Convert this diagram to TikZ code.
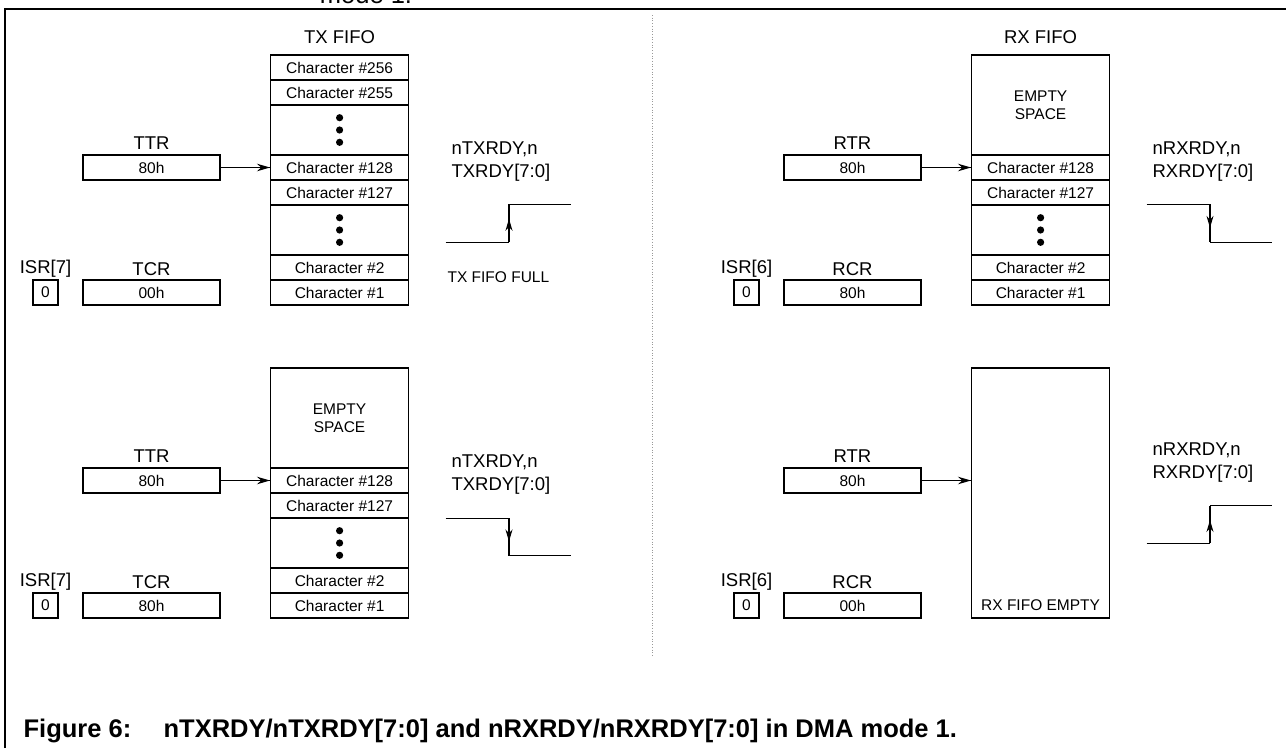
\documentclass[tikz,border=0pt]{standalone}
\usepackage{fontspec}
\setmainfont{Liberation Sans}
\usetikzlibrary{arrows.meta}
\usetikzlibrary{decorations.markings}
\tikzset{regarrow/.style = {decoration={markings,
                                  mark=at position 1 with {\arrow{Stealth[length=13pt,width=7.5pt]}}},
                      postaction={decorate}}}
\tikzset{uparrow/.style = {decoration={markings,
                                  mark=at position 0.62 with {\arrow{Stealth[length=12pt,width=7pt]}}},
                      postaction={decorate}}}
\newcommand{\cellfont}{\fontsize{15.5}{18}\selectfont}
\newcommand{\lblfont}{\fontsize{18.5}{23}\selectfont}
\tikzset{cell/.style = {draw, minimum width=138pt, minimum height=25pt, inner sep=0pt, font=\cellfont}}
\tikzset{reg/.style = {draw, minimum width=137pt, minimum height=25pt, inner sep=0pt, font=\cellfont}}
\tikzset{bit/.style = {draw, minimum width=25pt, minimum height=25pt, inner sep=0pt, font=\cellfont}}
\tikzset{lbl/.style = {inner sep=0pt, font=\lblfont}}
\tikzset{sig/.style = {inner sep=0pt, font=\lblfont, align=left, anchor=west}}
\definecolor{dgray}{rgb}{0.6, 0.6, 0.6}

\begin{document}
\begin{tikzpicture}[x=1pt, y=-1pt, line width=1.2pt]
    \useasboundingbox (0, 0) rectangle (1286, 748);
    \node (prevcap) [inner sep=0pt, anchor=base, font=\fontsize{25.5}{28}\selectfont] at (366, 3) {mode 1.};
    \draw [line width=2.5pt] (5, 748) -- (5, 9) -- (1286, 9);
    \draw [dgray, line width=0.7pt, dotted] (652, 15) -- (652, 655);

    % TX FIFO full
    \node (txtitle) [lbl] at (339.6, 37) {TX FIFO};
    \node (txa256) [cell] at (339.6, 67.5) {Character \#256};
    \node (txa255) [cell] at (339.6, 92.5) {Character \#255};
    \node (txadots1) [cell, minimum height=50pt] at (339.6, 130) {};
    \node (txa128) [cell] at (339.6, 167.5) {Character \#128};
    \node (txa127) [cell] at (339.6, 192.5) {Character \#127};
    \node (txadots2) [cell, minimum height=50pt] at (339.6, 230) {};
    \node (txa2) [cell] at (339.6, 267.5) {Character \#2};
    \node (txa1) [cell] at (339.6, 292.5) {Character \#1};
    \foreach \d in {-12.3, 0, 12.3} {
      \fill ([yshift=\d pt]txadots1.center) circle (3.6pt);
      \fill ([yshift=\d pt]txadots2.center) circle (3.6pt);
    }

    \node (ttra) [lbl] at (151.5, 143) {TTR};
    \node (ttrvala) [reg] at (151.5, 167.5) {80h};
    \draw [regarrow] (ttrvala) -- (txa128);
    \node (isr7a) [lbl] at (45.5, 269) {ISR[7]};
    \node (isr7vala) [bit] at (45.5, 292.5) {0};
    \node (tcra) [lbl] at (151.5, 269) {TCR};
    \node (tcrvala) [reg] at (151.5, 292.5) {00h};

    \node (txrdya) [sig] at (451, 161.5) {nTXRDY,n\\TXRDY[7:0]};
    \coordinate (txwa0) at (445.7, 242.3);
    \coordinate (txwa1) at (509, 242.3);
    \coordinate (txwa2) at (509, 204.3);
    \coordinate (txwa3) at (571.4, 204.3);
    \draw (txwa0) -- (txwa1) (txwa2) -- (txwa3);
    \draw [uparrow] (txwa1) -- (txwa2);
    \node (txfull) [inner sep=0pt, anchor=west, font=\cellfont] at (447, 277) {TX FIFO FULL};

    % RX FIFO half full
    \node (rxtitle) [lbl] at (1040.6, 37) {RX FIFO};
    \node (rxaempty) [cell, minimum height=100pt, align=center] at (1040.6, 105) {EMPTY\\SPACE};
    \node (rxa128) [cell] at (1040.6, 167.5) {Character \#128};
    \node (rxa127) [cell] at (1040.6, 192.5) {Character \#127};
    \node (rxadots) [cell, minimum height=50pt] at (1040.6, 230) {};
    \node (rxa2) [cell] at (1040.6, 267.5) {Character \#2};
    \node (rxa1) [cell] at (1040.6, 292.5) {Character \#1};
    \foreach \d in {-12.3, 0, 12.3}
      \fill ([yshift=\d pt]rxadots.center) circle (3.6pt);

    \node (rtra) [lbl] at (852.5, 143) {RTR};
    \node (rtrvala) [reg] at (852.5, 167.5) {80h};
    \draw [regarrow] (rtrvala) -- (rxa128);
    \node (isr6a) [lbl] at (746.5, 269) {ISR[6]};
    \node (isr6vala) [bit] at (746.5, 292.5) {0};
    \node (rcra) [lbl] at (852.5, 269) {RCR};
    \node (rcrvala) [reg] at (852.5, 292.5) {80h};

    \node (rxrdya) [sig] at (1152, 161.5) {nRXRDY,n\\RXRDY[7:0]};
    \coordinate (rxwa0) at (1146.7, 204.3);
    \coordinate (rxwa1) at (1210, 204.3);
    \coordinate (rxwa2) at (1210, 242.3);
    \coordinate (rxwa3) at (1272.4, 242.3);
    \draw (rxwa0) -- (rxwa1) (rxwa2) -- (rxwa3);
    \draw [uparrow] (rxwa1) -- (rxwa2);

    % TX FIFO half full
    \node (txbempty) [cell, minimum height=100pt, align=center] at (339.6, 418) {EMPTY\\SPACE};
    \node (txb128) [cell] at (339.6, 480.5) {Character \#128};
    \node (txb127) [cell] at (339.6, 505.5) {Character \#127};
    \node (txbdots) [cell, minimum height=50pt] at (339.6, 543) {};
    \node (txb2) [cell] at (339.6, 580.5) {Character \#2};
    \node (txb1) [cell] at (339.6, 605.5) {Character \#1};
    \foreach \d in {-12.3, 0, 12.3}
      \fill ([yshift=\d pt]txbdots.center) circle (3.6pt);

    \node (ttrb) [lbl] at (151.5, 456) {TTR};
    \node (ttrvalb) [reg] at (151.5, 480.5) {80h};
    \draw [regarrow] (ttrvalb) -- (txb128);
    \node (isr7b) [lbl] at (45.5, 582) {ISR[7]};
    \node (isr7valb) [bit] at (45.5, 605.5) {0};
    \node (tcrb) [lbl] at (151.5, 582) {TCR};
    \node (tcrvalb) [reg] at (151.5, 605.5) {80h};

    \node (txrdyb) [sig] at (451, 474.5) {nTXRDY,n\\TXRDY[7:0]};
    \coordinate (txwb0) at (445.7, 518.3);
    \coordinate (txwb1) at (509, 518.3);
    \coordinate (txwb2) at (509, 555.7);
    \coordinate (txwb3) at (571.4, 555.7);
    \draw (txwb0) -- (txwb1) (txwb2) -- (txwb3);
    \draw [uparrow] (txwb1) -- (txwb2);

    % RX FIFO empty
    \node (rxbempty) [cell, minimum height=250pt] at (1040.6, 493) {};
    \node (rxempty) [inner sep=0pt, font=\cellfont] at (1040.6, 605.5) {RX FIFO EMPTY};

    \node (rtrb) [lbl] at (852.5, 456) {RTR};
    \node (rtrvalb) [reg] at (852.5, 480.5) {80h};
    \draw [regarrow] (rtrvalb.east) -- (rtrvalb.east -| rxbempty.west);
    \node (isr6b) [lbl] at (746.5, 582) {ISR[6]};
    \node (isr6valb) [bit] at (746.5, 605.5) {0};
    \node (rcrb) [lbl] at (852.5, 582) {RCR};
    \node (rcrvalb) [reg] at (852.5, 605.5) {00h};

    \node (rxrdyb) [sig] at (1152, 462.5) {nRXRDY,n\\RXRDY[7:0]};
    \coordinate (rxwb0) at (1146.7, 543.3);
    \coordinate (rxwb1) at (1210, 543.3);
    \coordinate (rxwb2) at (1210, 505.7);
    \coordinate (rxwb3) at (1272.4, 505.7);
    \draw (rxwb0) -- (rxwb1) (rxwb2) -- (rxwb3);
    \draw [uparrow] (rxwb1) -- (rxwb2);

    \node (caption) [inner sep=0pt, anchor=base west, font=\fontsize{25.5}{28}\selectfont\bfseries] at (23, 737)
      {\makebox[140pt][l]{Figure 6:}nTXRDY/nTXRDY[7:0] and nRXRDY/nRXRDY[7:0] in DMA mode 1.};
\end{tikzpicture}
\end{document}
